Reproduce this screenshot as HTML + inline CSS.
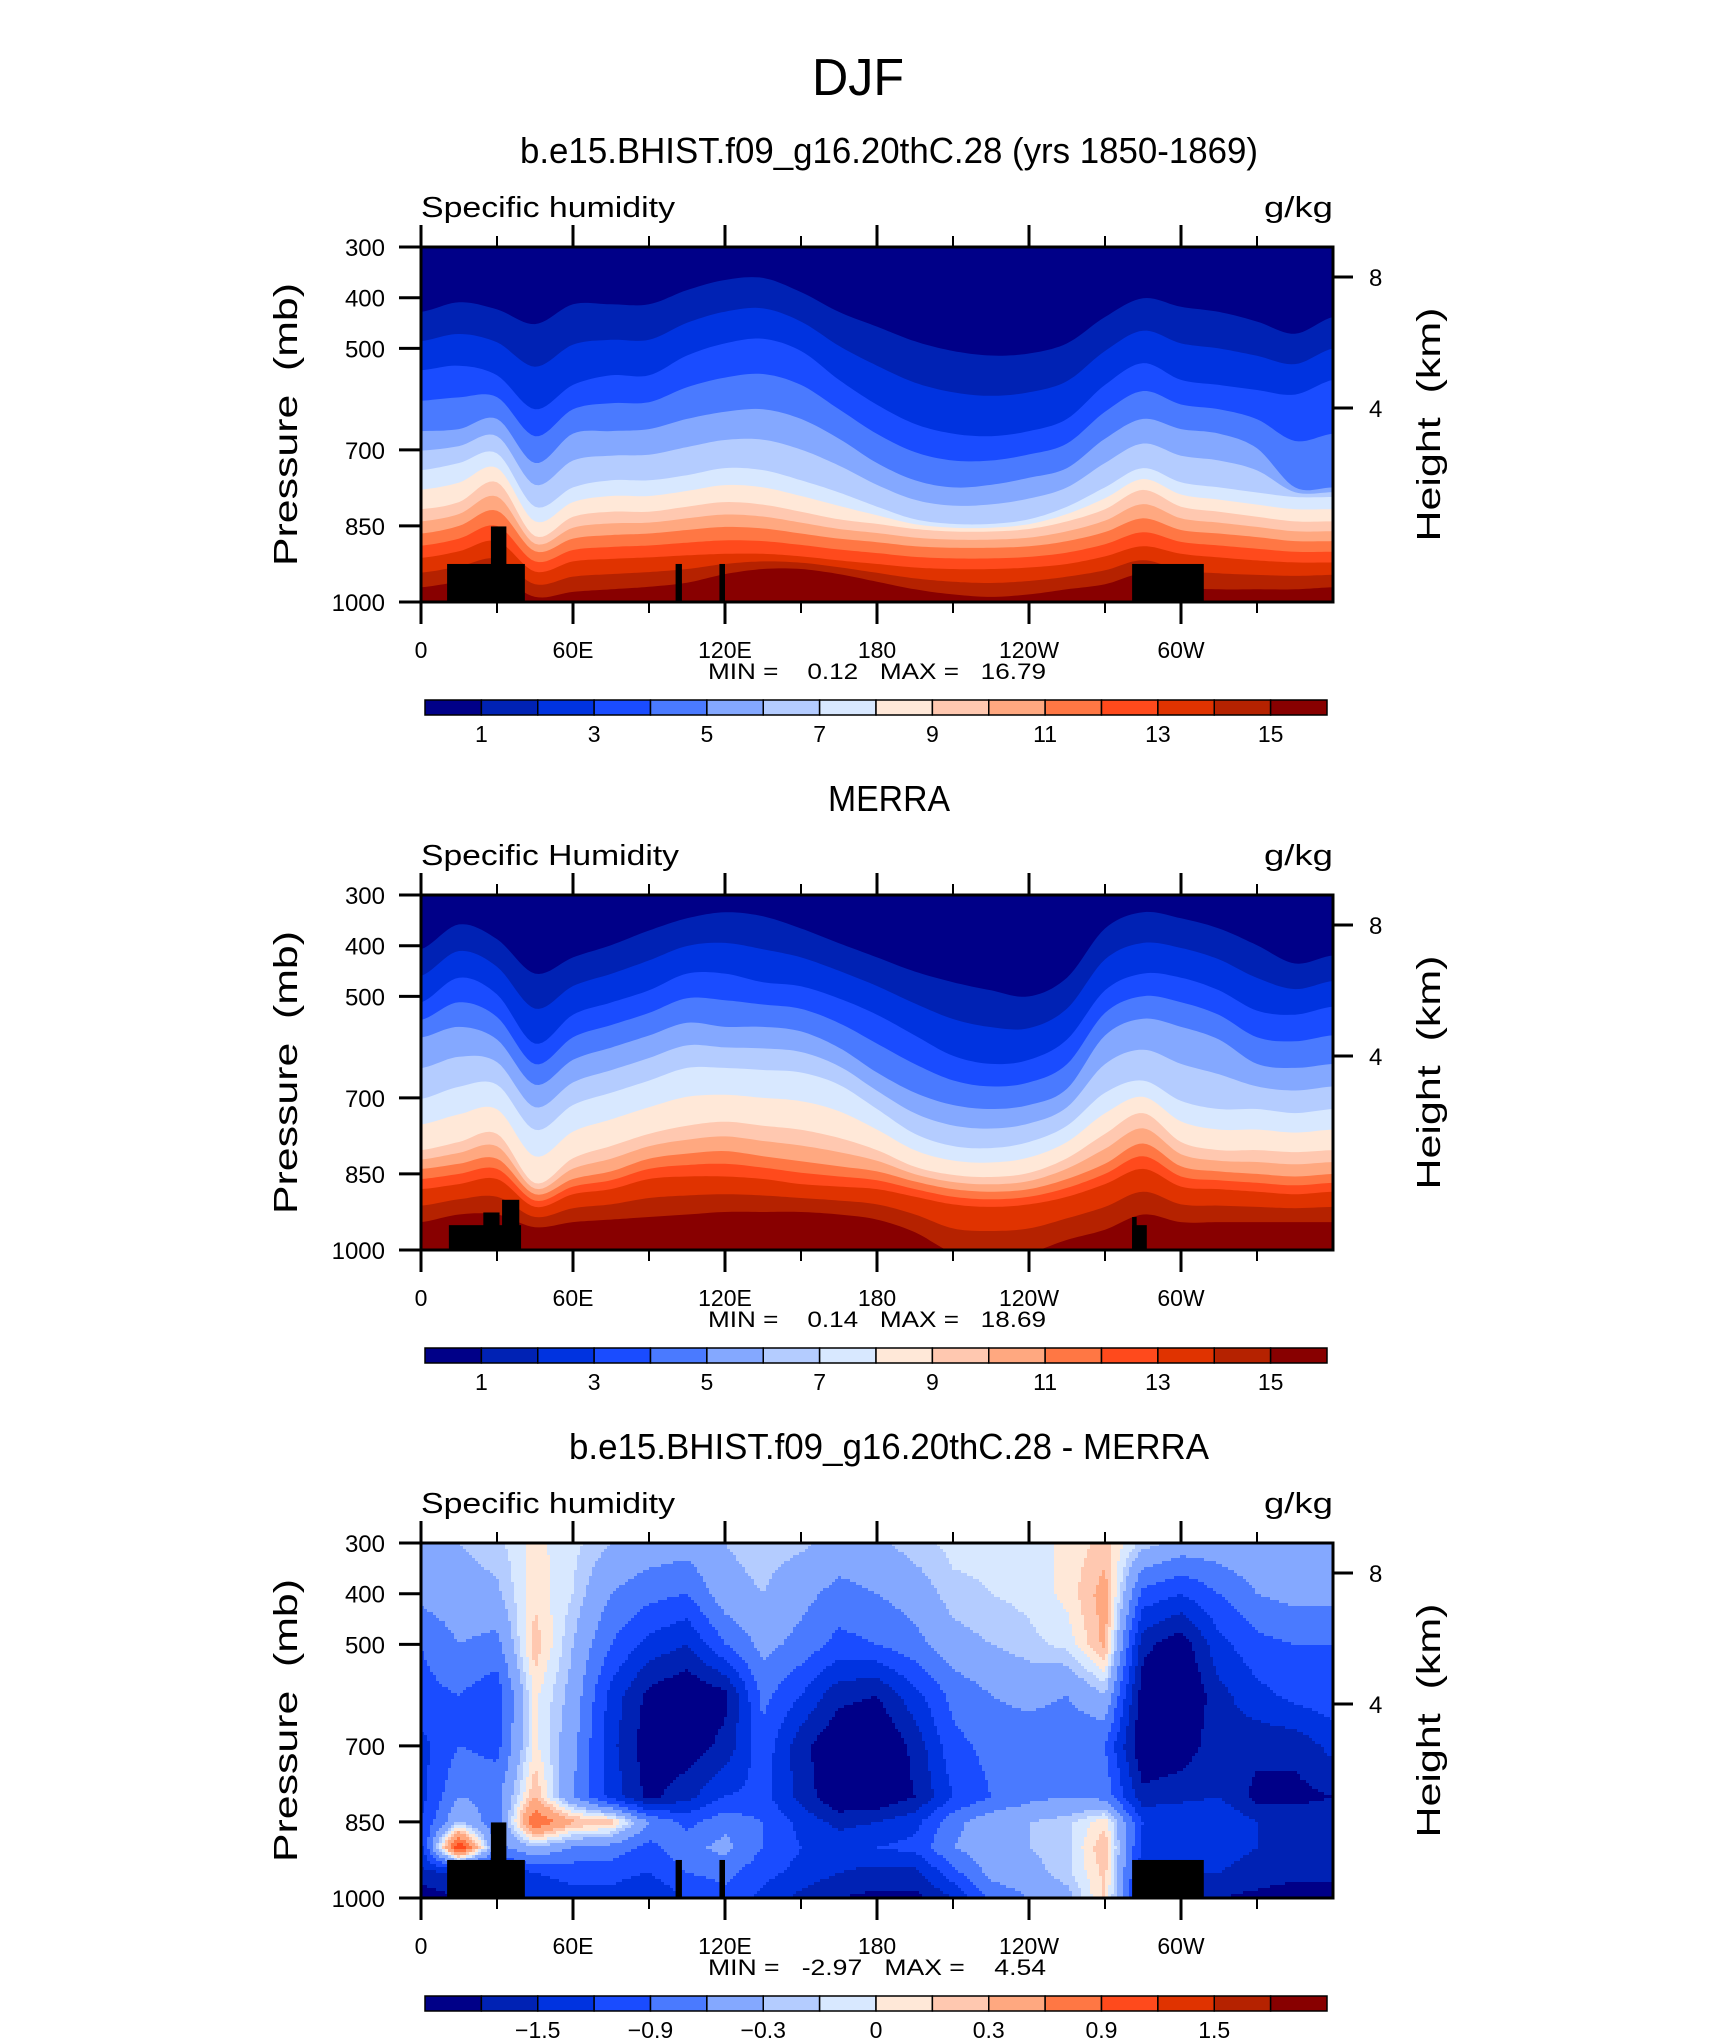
<!DOCTYPE html>
<html><head><meta charset="utf-8"><style>
html,body{margin:0;padding:0;background:#fff}
svg{display:block}
text{font-family:"Liberation Sans",sans-serif;fill:#000}
</style></head><body>
<svg id="root" xmlns="http://www.w3.org/2000/svg" width="1710" height="2038" viewBox="0 0 1710 2038">
<text x="858" y="95" font-size="52" text-anchor="middle" textLength="92" lengthAdjust="spacingAndGlyphs" font-weight="300">DJF</text>
</svg>
<script>
// ---------- data ----------
const lons = [0,15,30,45,60,75,90,105,120,135,150,165,180,195,210,225,240,255,270,285,300,315,330,345,360];
const qLevelsOdd = [1,3,5,7,9,11,13,15];
// model (plot 1) boundary pressures (mb) of q levels 1,3,5,...,15
const m_q1  = [428,409,423,452,413,413,413,385,365,361,389,428,457,486,505,514,510,490,438,401,418,428,447,471,438];
const m_q3  = [543,534,553,620,572,553,553,514,490,481,505,562,611,649,668,673,663,639,572,529,562,572,582,591,562];
const m_q5  = [663,659,639,726,668,663,659,639,625,620,639,678,726,760,774,769,755,736,678,639,659,668,697,774,774];
const m_q7  = [740,726,707,812,774,760,760,750,736,740,760,784,812,837,846,846,837,812,774,736,764,774,784,793,793];
const m_q9  = [817,803,764,870,832,822,822,812,803,808,822,837,846,856,861,861,856,841,817,779,812,822,832,841,841];
const m_q11 = [865,850,820,900,875,868,865,858,852,855,865,875,882,890,893,893,890,880,862,835,858,865,872,880,880];
const m_q13 = [913,900,880,940,920,915,912,908,905,905,910,918,925,932,935,935,932,925,910,890,905,912,918,922,922];
const m_q15 = [971,960,950,990,980,975,970,962,945,935,935,945,960,975,985,990,985,975,965,945,970,975,975,975,971];
// MERRA (plot 2)
const o_q1  = [407,358,387,455,423,399,370,346,334,342,366,395,423,451,472,488,500,463,366,334,346,366,399,435,419];
const o_q3  = [512,463,496,593,536,512,488,455,455,472,480,504,536,577,617,633,625,585,488,455,463,488,528,536,520];
const o_q5  = [581,560,585,674,625,601,577,552,560,560,569,601,650,690,714,722,714,682,577,544,560,585,633,641,633];
const o_q7  = [702,678,674,763,714,690,666,641,641,645,650,674,722,771,795,799,787,755,690,666,706,722,722,730,722];
const o_q9  = [803,787,771,868,819,795,771,755,747,755,763,779,803,836,852,856,848,819,771,730,787,803,803,807,803];
const o_q11 = [840,830,820,890,860,845,820,810,805,815,825,835,845,865,880,885,880,860,830,790,835,845,850,855,850];
const o_q13 = [880,870,860,915,890,880,860,855,855,860,870,875,880,895,910,915,910,895,870,840,875,880,885,890,885];
const o_q15 = [945,930,930,955,945,940,935,930,925,925,925,930,940,965,1005,1010,1005,980,960,930,945,945,945,945,945];
// difference (plot 3) grid values g/kg
const dPres = [300,400,500,600,700,800,850,900,950,1000];
const d300 = [-0.4,-0.3,-0.2,0.05,-0.1,-0.3,-0.4,-0.45,-0.3,-0.2,-0.25,-0.4,-0.35,-0.2,-0.1,-0.1,-0.1,0.05,0.2,-0.2,-0.4,-0.4,-0.3,-0.3,-0.4];
const d400 = [-0.5,-0.4,-0.35,0.1,-0.15,-0.6,-0.8,-0.9,-0.4,-0.3,-0.5,-0.7,-0.6,-0.45,-0.2,-0.15,-0.1,0.05,0.4,-1.0,-1.2,-0.9,-0.6,-0.5,-0.5];
const d500 = [-0.9,-0.6,-0.7,0.25,-0.3,-0.9,-1.3,-1.5,-0.9,-0.5,-0.7,-1.0,-0.9,-0.7,-0.4,-0.3,-0.2,-0.1,0.35,-1.7,-2.0,-1.3,-1.0,-0.9,-0.9];
const d600 = [-1.0,-0.9,-1.1,0.05,-0.4,-1.3,-1.9,-2.1,-1.9,-0.8,-1.2,-1.7,-1.8,-1.3,-0.8,-0.6,-0.5,-0.6,-0.3,-2.0,-2.2,-1.6,-1.3,-1.1,-1.0];
const d700 = [-1.3,-0.9,-1.0,0.05,-0.5,-1.4,-2.0,-2.0,-1.7,-1.0,-1.7,-2.1,-2.2,-1.7,-1.0,-0.8,-0.8,-0.8,-0.9,-2.1,-2.0,-1.6,-1.7,-1.7,-1.4];
const d800 = [-1.3,-0.6,-0.7,0.3,-0.6,-1.3,-1.9,-1.6,-1.2,-1.1,-1.6,-2.1,-2.1,-1.8,-1.2,-0.9,-0.7,-0.6,-0.7,-1.7,-1.6,-1.5,-1.9,-1.9,-1.8];
const d850 = [-1.2,-0.3,-0.8,0.9,0.35,0.25,-0.6,-1.0,-0.7,-0.9,-1.3,-1.6,-1.5,-1.3,-0.7,-0.4,-0.3,-0.2,0.1,-1.2,-1.2,-1.2,-1.5,-1.6,-1.6];
const d900 = [-1.3,1.2,-0.7,-0.3,-0.6,-0.7,-1.0,-0.7,-0.5,-0.9,-1.2,-1.3,-1.2,-1.1,-0.6,-0.4,-0.3,-0.2,0.3,-1.3,-1.4,-1.4,-1.5,-1.6,-1.6];
const d950 = [-1.6,-1.5,-1.4,-1.2,-1.1,-1.1,-1.2,-0.9,-0.8,-1.1,-1.3,-1.5,-1.6,-1.6,-1.0,-0.5,-0.4,-0.2,0.2,-1.4,-1.5,-1.5,-1.6,-1.7,-1.7];
const d1000= [-2.0,-1.8,-1.6,-1.4,-1.3,-1.3,-1.5,-1.2,-1.0,-1.3,-1.6,-1.8,-1.9,-1.9,-1.5,-0.8,-0.6,-0.4,0.2,-1.6,-1.8,-1.8,-1.9,-2.0,-2.0];
const diffLevels = [-1.8,-1.5,-1.2,-0.9,-0.6,-0.3,-0.15,0,0.15,0.3,0.6,0.9,1.2,1.5,1.8];
// topography blocks [lonStart, lonEnd, topPressure]
const topoModel = [[10.3,41,925],[27.6,33.7,851],[100.5,103,925],[117.8,120,925],[280.7,309,925]];
const topoMerra = [[11,39.5,951],[24.6,31,926],[32,38.8,901],[280.7,286.5,951],[280.7,282.5,935]];
// axis labels
const presTicks = [300,400,500,700,850,1000];
const lonTicks = [0,60,120,180,240,300];
const lonLabels = ["0","60E","120E","180","120W","60W"];
const lonMinor = [30,90,150,210,270,330];
const hgtTicks = [8,4];
const qbarLabels = ["1","3","5","7","9","11","13","15"];
const dbarLabels = ["-1.5","-0.9","-0.3","0","0.3","0.9","1.5"];
const colors = ["#000088","#0022b4","#0033e0","#1a4cff","#4a7aff","#84a8ff","#b4ccff","#d8e8ff","#ffe8d8","#ffc8b0","#ffa880","#ff7744","#ff4a1c","#e03300","#b52200","#880000"];

// ---------- helpers ----------
const NS = "http://www.w3.org/2000/svg";
const root = document.getElementById('root');
function el(tag, attrs, parent){const e=document.createElementNS(NS,tag);for(const k in attrs)e.setAttribute(k,attrs[k]);(parent||root).appendChild(e);return e;}
const X0=421, X1=1333, PH=355;
function xOf(lon){return X0+(lon/360)*(X1-X0);}
function interpArr(arr, lon){
  const f=lon/15; let i=Math.floor(f); if(i>=24)i=23; const t=f-i;
  const p0=arr[Math.max(i-1,0)],p1=arr[i],p2=arr[i+1],p3=arr[Math.min(i+2,24)];
  return 0.5*((2*p1)+(-p0+p2)*t+(2*p0-5*p1+4*p2-p3)*t*t+(-p0+3*p1-3*p2+p3)*t*t*t);
}
function lin(arr, lon){const f=lon/15;let i=Math.floor(f);if(i>=24)i=23;const t=f-i;return arr[i]*(1-t)+arr[i+1]*t;}

function frame(top, g){
  const yOf=p=>top+(p-300)/700*PH;
  el('rect',{x:X0,y:top,width:X1-X0,height:PH,fill:'none',stroke:'#000','stroke-width':3,},g);
  lonTicks.forEach((l,i)=>{
    const x=xOf(l);
    el('line',{x1:x,y1:top,x2:x,y2:top-22,stroke:'#000','stroke-width':3},g);
    el('line',{x1:x,y1:top+PH,x2:x,y2:top+PH+22,stroke:'#000','stroke-width':3},g);
    const t=el('text',{x:x,y:top+PH+56,'font-size':23,'text-anchor':'middle'},g);
    
    
    t.textContent=lonLabels[i];
  });
  lonMinor.forEach(l=>{const x=xOf(l);
    el('line',{x1:x,y1:top,x2:x,y2:top-11,stroke:'#000','stroke-width':2},g);
    el('line',{x1:x,y1:top+PH,x2:x,y2:top+PH+11,stroke:'#000','stroke-width':2},g);});
  presTicks.forEach(p=>{const y=yOf(p);
    el('line',{x1:X0-22,y1:y,x2:X0,y2:y,stroke:'#000','stroke-width':3},g);
    const t=el('text',{x:385,y:y+9,'font-size':24,'text-anchor':'end'},g);
    
    
    t.textContent=p;});
  hgtTicks.forEach((h,i)=>{const y=top+(h===8?30:161);
    el('line',{x1:X1,y1:y,x2:X1+20,y2:y,stroke:'#000','stroke-width':3},g);
    const t=el('text',{x:1369,y:y+9,'font-size':24},g);
    
    
    t.textContent=h;});
  const yt=el('text',{x:0,y:0,'font-size':33,'text-anchor':'middle',transform:`translate(297,${top+PH/2}) rotate(-90)`,textLength:283,lengthAdjust:'spacingAndGlyphs'},g);
  
  
  yt.textContent='Pressure\u00a0\u00a0(mb)';
  const rt=el('text',{x:0,y:0,'font-size':33,'text-anchor':'middle',transform:`translate(1440,${top+PH/2}) rotate(-90)`,textLength:234,lengthAdjust:'spacingAndGlyphs'},g);
  
  
  rt.textContent='Height\u00a0\u00a0(km)';
}
function topo(top, blocks, g){
  const yOf=p=>top+(p-300)/700*PH;
  blocks.forEach(b=>{const r=el('rect',{x:xOf(b[0]),y:yOf(b[2]),width:xOf(b[1])-xOf(b[0]),height:yOf(1000)-yOf(b[2]),fill:'#000'},g);
    
    });
}
function texts(top,title,tlen,left,llen,minmax,g){
  const a=el('text',{x:(X0+X1)/2+12,y:top-84,'font-size':36,'text-anchor':'middle',textLength:tlen,lengthAdjust:'spacingAndGlyphs'},g);
  
  
  a.textContent=title;
  const b=el('text',{x:X0,y:top-30,'font-size':29,textLength:llen,lengthAdjust:'spacingAndGlyphs'},g);
  
  
  b.textContent=left;
  const c=el('text',{x:X1,y:top-30,'font-size':29,'text-anchor':'end',textLength:69,lengthAdjust:'spacingAndGlyphs'},g);
  
  
  c.textContent='g/kg';
  const d=el('text',{x:708,y:top+PH+77,'font-size':22,textLength:338,lengthAdjust:'spacingAndGlyphs'},g);
  
  
  d.textContent=minmax.replace(/ /g,'\u00a0');
}
function colorbar(top, labels, offsets, g){
  const y=top+PH+98, bx0=425, bw=(1327-425)/16;
  colors.forEach((c,i)=>{const r=el('rect',{x:bx0+i*bw,y:y,width:bw,height:15,fill:c,stroke:'#000','stroke-width':1.5},g);
    
    });
  labels.forEach((s,i)=>{const t=el('text',{x:bx0+offsets[i]*bw,y:y+42,'font-size':23,'text-anchor':'middle'},g);
    
    
    t.textContent=s.replace('-','\u2212');});
}
function contourPanel(top, arrs, g){
  const yOf=p=>top+(Math.min(Math.max(p,300),1000)-300)/700*PH;
  const clipId='clip'+top;
  const cp=el('clipPath',{id:clipId},g); el('rect',{x:X0,y:top,width:X1-X0,height:PH},cp);
  const cg=el('g',{'clip-path':`url(#${clipId})`},g);
  
  
  el('rect',{x:X0,y:top,width:X1-X0,height:PH,fill:colors[0]},cg);
  for(let k=1;k<=15;k++){
    let d=`M${xOf(0)},${top+PH+5}`;
    for(let lon=0;lon<=360;lon+=1.5){
      let p;
      if(k%2===1) p=interpArr(arrs[(k-1)/2],lon);
      else p=(interpArr(arrs[k/2-1],lon)+interpArr(arrs[k/2],lon))/2;
      d+=` L${xOf(lon).toFixed(1)},${yOf(p).toFixed(1)}`;
    }
    d+=` L${xOf(360)},${top+PH+5} Z`;
    const path=el('path',{d:d,fill:colors[k]},cg);
    
    
  }
}
function diffPanel(top, rows, g){
  const cg=el('g',{},g);
  
  
  const W=X1-X0, cs=3;
  function val(lon,p){
    let j=0; while(j<dPres.length-2 && p>dPres[j+1]) j++;
    const t=(p-dPres[j])/(dPres[j+1]-dPres[j]);
    return lin(rows[j],lon)*(1-t)+lin(rows[j+1],lon)*t;
  }
  function band(v){let b=0;for(const L of diffLevels) if(v>L) b++; return b;}
  for(let yy=0;yy<PH;yy+=cs){
    const p=300+(yy+cs/2)/PH*700;
    let start=0, cur=-1;
    for(let xx=0;xx<=W;xx+=cs){
      const b= xx<W ? band(val((xx+cs/2)/W*360,p)) : -2;
      if(b!==cur){
        if(cur>=0){el('rect',{x:X0+start,y:top+yy,width:Math.min(xx,W)-start,height:Math.min(cs,PH-yy)+0.5,fill:colors[cur]},cg);}
        start=xx; cur=b;
      }
    }
  }
}
// ---------- panels ----------
const tops=[247,895,1543];
const g1=el('g',{});  
contourPanel(tops[0],[m_q1,m_q3,m_q5,m_q7,m_q9,m_q11,m_q13,m_q15],g1);
topo(tops[0],topoModel,g1); frame(tops[0],g1);
texts(tops[0],'b.e15.BHIST.f09_g16.20thC.28 (yrs 1850-1869)',738,'Specific humidity',254,'MIN =    0.12   MAX =   16.79',g1);
colorbar(tops[0],qbarLabels,[1,3,5,7,9,11,13,15],g1);

const g2=el('g',{});  
contourPanel(tops[1],[o_q1,o_q3,o_q5,o_q7,o_q9,o_q11,o_q13,o_q15],g2);
topo(tops[1],topoMerra,g2); frame(tops[1],g2);
texts(tops[1],'MERRA',122,'Specific Humidity',258,'MIN =    0.14   MAX =   18.69',g2);
colorbar(tops[1],qbarLabels,[1,3,5,7,9,11,13,15],g2);

const g3=el('g',{});  
diffPanel(tops[2],[d300,d400,d500,d600,d700,d800,d850,d900,d950,d1000],g3);
topo(tops[2],topoModel,g3); frame(tops[2],g3);
texts(tops[2],'b.e15.BHIST.f09_g16.20thC.28 - MERRA',640,'Specific humidity',254,'MIN =   -2.97   MAX =    4.54',g3);
colorbar(tops[2],dbarLabels,[2,4,6,8,10,12,14],g3);
</script>
</body></html>
